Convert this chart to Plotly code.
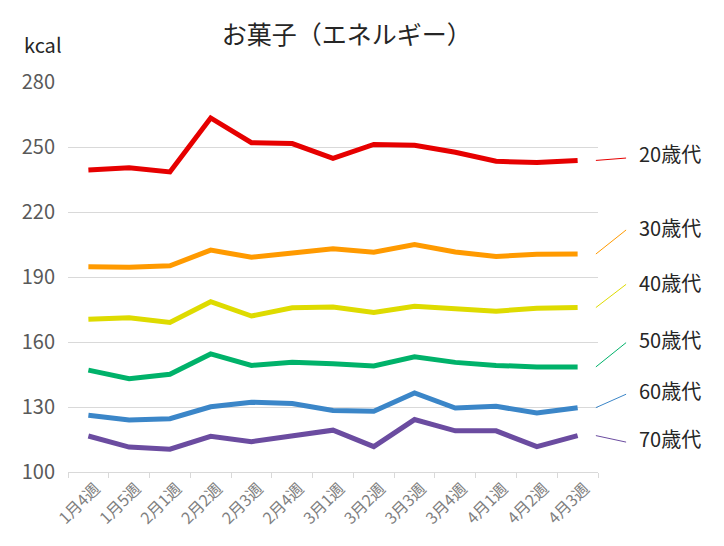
import plotly.graph_objects as go

categories = ["1月4週", "1月5週", "2月1週", "2月2週", "2月3週", "2月4週", "3月1週",
              "3月2週", "3月3週", "3月4週", "4月1週", "4月2週", "4月3週"]

series_names = ["20歳代", "30歳代", "40歳代", "50歳代", "60歳代", "70歳代"]

s20 = [239.4, 240.4, 238.5, 263.4, 252.0, 251.6, 244.8, 251.2, 250.8, 247.6, 243.4, 242.8, 243.8]
s30 = [194.7, 194.5, 195.2, 202.4, 199.1, 200.8, 203.0, 201.4, 205.0, 201.5, 199.5, 200.5, 200.6]
s40 = [170.5, 171.2, 169.0, 178.6, 172.0, 175.8, 176.1, 173.6, 176.5, 175.5, 174.2, 175.6, 175.9]
s50 = [147.0, 143.1, 145.1, 154.5, 149.2, 150.6, 150.0, 148.9, 153.2, 150.6, 149.2, 148.5, 148.5]
s60 = [126.2, 124.0, 124.6, 130.1, 132.2, 131.6, 128.4, 128.0, 136.5, 129.5, 130.3, 127.2, 129.7]
s70 = [116.6, 111.5, 110.5, 116.5, 114.0, 116.5, 119.3, 111.7, 124.2, 119.0, 119.0, 111.7, 116.8]

y_tick_vals = [100, 130, 160, 190, 220, 250, 280]
title_text = "お菓子（エネルギー）"
unit_text = "kcal"

series_values = [s20, s30, s40, s50, s60, s70]
colors = ["#e60000", "#ff9a00", "#dedb00", "#00b26a", "#3b86c8", "#6b4ca0"]
label_y = [246.8, 213.0, 187.6, 161.3, 137.5, 115.3]      # label text centres (data units)
leader_end_y = [244.9, 211.7, 186.6, 159.7, 135.9, 113.8]

FONT = "Noto Sans CJK JP"

fig = go.Figure()
for name, vals, col in zip(series_names, series_values, colors):
    fig.add_trace(go.Scatter(x=categories, y=vals, mode="lines", name=name,
                             line=dict(color=col, width=5), showlegend=False,
                             hoverinfo="x+y+name"))

shapes = []
annotations = []
for name, vals, col, ly, le in zip(series_names, series_values, colors, label_y, leader_end_y):
    shapes.append(dict(type="line", xref="paper", yref="y", x0=0.996, x1=1.053,
                       y0=vals[-1], y1=le, line=dict(color=col, width=1)))
    annotations.append(dict(text=name, xref="paper", yref="y", x=1.073, y=ly,
                            xanchor="left", yanchor="middle", showarrow=False,
                            font=dict(family=FONT, size=20, color="#262626")))

annotations.append(dict(text=unit_text, xref="paper", yref="paper", x=-0.087, y=1.095,
                        xanchor="left", yanchor="middle", showarrow=False,
                        font=dict(family=FONT, size=20, color="#262626")))

fig.update_layout(
    width=724, height=546,
    margin=dict(l=60, r=134, t=74, b=82, autoexpand=False),
    paper_bgcolor="white", plot_bgcolor="white",
    title=dict(text=title_text, x=0.526, xref="paper", xanchor="center", y=0.9505,
               yref="container", yanchor="middle",
               font=dict(family=FONT, size=25, color="#262626")),
    font=dict(family=FONT),
    shapes=shapes, annotations=annotations,
    xaxis=dict(type="category", range=[-0.5, len(categories) - 0.5], automargin=False,
               tickangle=-45, tickson="boundaries", ticks="outside", ticklen=5,
               tickcolor="#d9d9d9", showline=True, linecolor="#d9d9d9", linewidth=1,
               showgrid=False, ticklabelshift=7,
               tickfont=dict(family=FONT, size=16, color="#7f7f7f")),
    yaxis=dict(range=[100, 280], tickvals=y_tick_vals, showgrid=True, automargin=False,
               gridcolor="#d9d9d9", gridwidth=1, zeroline=False, showline=False,
               ticks="", ticklabelstandoff=12,
               tickfont=dict(family=FONT, size=20, color="#595959")),
)

fig.write_html("out.html")
